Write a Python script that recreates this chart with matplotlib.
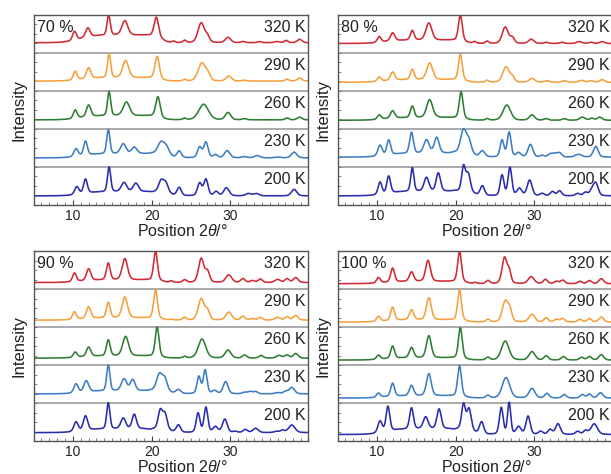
import numpy as np
import matplotlib.pyplot as plt
from matplotlib.ticker import MultipleLocator

plt.rcParams['font.family'] = ['Liberation Sans', 'DejaVu Sans']
plt.rcParams['mathtext.fontset'] = 'custom'
plt.rcParams['mathtext.rm'] = 'Liberation Sans'
plt.rcParams['mathtext.it'] = 'Liberation Sans:italic'

temps = ['320 K', '290 K', '260 K', '230 K', '200 K']
colours = ['#d02a34', '#f5a03c', '#2e7d32', '#3d7ec2', '#2a2cae']
humidity = ['70 %', '80 %', '90 %', '100 %']

# peaks: (2theta, apex height in strip units, fwhm)
p70_320 = [(10.2, 0.57, 0.35), (11.9, 0.66, 0.4), (14.55, 1.0, 0.3), (16.6, 0.85, 0.55), (20.6, 0.94, 0.4),
           (22.8, 0.31, 0.3), (24.2, 0.33, 0.3), (26.3, 0.79, 0.6), (27.1, 0.42, 0.4), (29.7, 0.41, 0.5),
           (31.6, 0.3, 0.4), (33.7, 0.3, 0.4), (35.9, 0.3, 0.5), (37.1, 0.33, 0.35), (38.8, 0.36, 0.45)]
p70_290 = [(10.3, 0.52, 0.35), (12.0, 0.61, 0.4), (14.6, 0.98, 0.3), (16.7, 0.8, 0.55), (20.7, 0.91, 0.4),
           (24.2, 0.3, 0.3), (26.4, 0.74, 0.7), (27.2, 0.4, 0.4), (29.8, 0.39, 0.5), (31.7, 0.28, 0.4),
           (37.2, 0.31, 0.35), (38.8, 0.34, 0.45)]
p70_260 = [(10.3, 0.5, 0.35), (12.0, 0.63, 0.4), (14.6, 0.98, 0.3), (16.8, 0.71, 0.6), (20.8, 0.85, 0.4),
           (24.2, 0.28, 0.3), (26.6, 0.65, 0.9), (29.7, 0.43, 0.5), (31.8, 0.27, 0.4), (37.2, 0.29, 0.35),
           (38.8, 0.31, 0.45)]
p70_230 = [(10.4, 0.48, 0.4), (11.6, 0.68, 0.35), (14.5, 0.98, 0.3), (16.4, 0.61, 0.5), (17.8, 0.52, 0.5),
           (20.0, 0.36, 0.4), (21.2, 0.65, 0.6), (21.9, 0.5, 0.5), (23.5, 0.42, 0.4), (26.1, 0.52, 0.4),
           (26.9, 0.65, 0.4), (28.1, 0.32, 0.4), (29.6, 0.43, 0.5), (31.8, 0.27, 0.5), (33.4, 0.3, 0.5),
           (36.0, 0.26, 0.5), (38.1, 0.39, 0.5)]
p70_200 = [(10.5, 0.48, 0.4), (11.6, 0.68, 0.35), (14.6, 1.0, 0.3), (16.5, 0.59, 0.5), (18.0, 0.57, 0.5),
           (20.0, 0.34, 0.4), (21.2, 0.63, 0.45), (21.8, 0.57, 0.45), (23.5, 0.46, 0.4), (26.1, 0.57, 0.4),
           (26.9, 0.67, 0.4), (28.2, 0.35, 0.4), (29.5, 0.45, 0.5), (32.3, 0.3, 0.5), (33.3, 0.3, 0.5),
           (38.1, 0.41, 0.5)]

p80_320 = [(10.3, 0.43, 0.35), (12.0, 0.53, 0.4), (14.5, 0.59, 0.35), (16.6, 0.79, 0.55), (20.6, 1.0, 0.35),
           (22.4, 0.3, 0.3), (24.0, 0.31, 0.3), (26.3, 0.68, 0.55), (27.2, 0.4, 0.4), (29.6, 0.36, 0.5),
           (31.5, 0.28, 0.4), (33.5, 0.28, 0.4), (35.7, 0.3, 0.5), (37.2, 0.28, 0.4), (38.6, 0.3, 0.45)]
p80_290 = [(10.3, 0.37, 0.35), (12.0, 0.5, 0.4), (14.5, 0.57, 0.35), (16.7, 0.74, 0.55), (20.6, 0.97, 0.35),
           (24.0, 0.28, 0.3), (26.4, 0.63, 0.6), (27.2, 0.36, 0.4), (29.7, 0.33, 0.5), (31.6, 0.27, 0.4),
           (33.8, 0.27, 0.4), (36.0, 0.28, 0.5), (37.2, 0.27, 0.4), (38.6, 0.3, 0.45)]
p80_260 = [(10.3, 0.37, 0.35), (12.0, 0.48, 0.4), (14.5, 0.6, 0.35), (16.7, 0.77, 0.55), (17.6, 0.31, 0.4),
           (20.7, 0.98, 0.35), (24.0, 0.27, 0.3), (26.5, 0.63, 0.7), (29.7, 0.37, 0.5), (31.5, 0.27, 0.4),
           (33.8, 0.27, 0.4), (36.1, 0.31, 0.5), (37.3, 0.28, 0.4), (38.3, 0.31, 0.45)]
p80_230 = [(10.4, 0.57, 0.4), (11.5, 0.71, 0.35), (14.4, 0.91, 0.35), (16.3, 0.71, 0.5), (17.6, 0.77, 0.45),
           (19.8, 0.38, 0.4), (21.0, 0.97, 0.55), (21.7, 0.65, 0.45), (23.4, 0.42, 0.45), (25.9, 0.7, 0.35),
           (26.8, 0.91, 0.35), (28.0, 0.37, 0.45), (29.5, 0.59, 0.45), (31.0, 0.3, 0.4), (32.0, 0.34, 0.4),
           (32.6, 0.35, 0.4), (33.2, 0.37, 0.4), (35.6, 0.33, 0.6), (37.8, 0.54, 0.45)]
p80_200 = [(10.4, 0.6, 0.35), (11.5, 0.76, 0.35), (14.5, 0.98, 0.3), (16.3, 0.72, 0.45), (17.8, 0.84, 0.4),
           (19.8, 0.37, 0.4), (21.0, 1.0, 0.35), (21.6, 0.81, 0.4), (23.4, 0.5, 0.4), (25.9, 0.78, 0.35),
           (26.9, 0.98, 0.35), (28.1, 0.43, 0.45), (29.4, 0.65, 0.45), (31.0, 0.3, 0.4), (32.3, 0.35, 0.4),
           (33.2, 0.37, 0.4), (35.5, 0.3, 0.4), (36.5, 0.33, 0.4), (37.3, 0.37, 0.4), (37.8, 0.57, 0.45)]

p90_320 = [(10.2, 0.42, 0.35), (12.0, 0.53, 0.4), (14.5, 0.68, 0.35), (16.6, 0.8, 0.5), (20.5, 1.0, 0.35),
           (22.5, 0.21, 0.3), (24.2, 0.24, 0.35), (26.3, 0.8, 0.5), (27.1, 0.45, 0.4), (29.8, 0.37, 0.55),
           (31.6, 0.27, 0.4), (32.8, 0.22, 0.4), (33.8, 0.26, 0.4), (36.0, 0.25, 0.5), (37.2, 0.27, 0.4),
           (38.3, 0.3, 0.45)]
p90_290 = [(10.2, 0.4, 0.35), (12.0, 0.53, 0.4), (14.5, 0.65, 0.35), (16.6, 0.79, 0.5), (20.5, 0.99, 0.35),
           (22.5, 0.2, 0.3), (24.2, 0.25, 0.35), (26.3, 0.74, 0.55), (27.1, 0.42, 0.4), (29.8, 0.39, 0.55),
           (31.6, 0.28, 0.4), (32.8, 0.22, 0.4), (33.8, 0.25, 0.4), (36.0, 0.25, 0.5), (37.2, 0.27, 0.4),
           (38.3, 0.3, 0.45)]
p90_260 = [(10.3, 0.34, 0.35), (12.0, 0.47, 0.4), (14.5, 0.66, 0.35), (16.7, 0.75, 0.55), (20.7, 1.0, 0.35),
           (24.2, 0.22, 0.35), (26.4, 0.68, 0.7), (29.7, 0.39, 0.55), (31.8, 0.26, 0.4), (33.9, 0.25, 0.4),
           (36.2, 0.25, 0.5), (37.2, 0.26, 0.4), (38.3, 0.3, 0.45)]
p90_230 = [(10.4, 0.5, 0.4), (11.7, 0.58, 0.45), (14.5, 1.0, 0.3), (16.5, 0.63, 0.5), (17.6, 0.61, 0.45),
           (19.8, 0.33, 0.4), (21.0, 0.76, 0.55), (21.7, 0.6, 0.45), (23.4, 0.35, 0.45), (26.0, 0.69, 0.35),
           (26.8, 0.86, 0.35), (28.0, 0.32, 0.45), (29.4, 0.56, 0.45), (31.8, 0.28, 0.4), (32.5, 0.3, 0.4),
           (33.2, 0.3, 0.4), (36.0, 0.27, 0.5), (37.0, 0.3, 0.4), (37.8, 0.41, 0.5)]
p90_200 = [(10.4, 0.5, 0.4), (11.6, 0.66, 0.4), (14.5, 1.0, 0.3), (16.4, 0.6, 0.45), (17.8, 0.7, 0.4),
           (19.8, 0.3, 0.4), (21.1, 0.8, 0.4), (21.7, 0.7, 0.4), (23.4, 0.42, 0.4), (25.9, 0.73, 0.35),
           (26.9, 0.88, 0.35), (28.1, 0.37, 0.45), (29.3, 0.57, 0.45), (30.6, 0.25, 0.4), (31.9, 0.3, 0.4),
           (33.2, 0.33, 0.5), (35.8, 0.25, 0.4), (36.6, 0.28, 0.4), (37.8, 0.42, 0.6)]

p100_320 = [(10.2, 0.3, 0.35), (12.0, 0.55, 0.35), (14.4, 0.45, 0.4), (16.5, 0.75, 0.45), (20.5, 1.0, 0.35),
            (22.5, 0.17, 0.3), (24.1, 0.22, 0.35), (26.2, 0.82, 0.45), (26.8, 0.45, 0.35), (29.6, 0.32, 0.55),
            (31.4, 0.25, 0.4), (32.8, 0.2, 0.4), (33.6, 0.23, 0.4), (35.8, 0.2, 0.4), (37.0, 0.22, 0.4),
            (38.5, 0.27, 0.45)]
p100_290 = [(10.2, 0.28, 0.35), (12.0, 0.52, 0.35), (14.4, 0.45, 0.4), (16.6, 0.77, 0.45), (20.5, 0.98, 0.35),
            (24.1, 0.2, 0.35), (26.3, 0.67, 0.55), (26.9, 0.4, 0.4), (29.7, 0.33, 0.55), (31.5, 0.24, 0.4),
            (32.8, 0.2, 0.4), (33.6, 0.22, 0.4), (35.8, 0.2, 0.4), (37.0, 0.22, 0.4), (38.5, 0.26, 0.45)]
p100_260 = [(10.2, 0.26, 0.35), (12.0, 0.5, 0.35), (14.4, 0.46, 0.4), (16.6, 0.77, 0.45), (20.6, 0.98, 0.35),
            (24.1, 0.2, 0.35), (26.3, 0.63, 0.7), (29.7, 0.35, 0.55), (31.5, 0.24, 0.4), (33.7, 0.22, 0.4),
            (36.0, 0.2, 0.4), (37.0, 0.22, 0.4), (38.5, 0.27, 0.45)]
p100_230 = [(10.2, 0.26, 0.35), (12.0, 0.52, 0.35), (14.4, 0.46, 0.4), (16.6, 0.77, 0.45), (20.5, 0.98, 0.35),
            (24.1, 0.2, 0.35), (26.4, 0.67, 0.7), (29.7, 0.38, 0.55), (31.6, 0.25, 0.4), (33.8, 0.22, 0.4),
            (36.1, 0.22, 0.4), (37.0, 0.23, 0.4), (38.4, 0.27, 0.45)]
p100_200 = [(10.4, 0.52, 0.4), (11.4, 0.91, 0.35), (14.4, 0.87, 0.35), (16.2, 0.63, 0.45), (17.9, 0.84, 0.4),
            (19.8, 0.3, 0.4), (21.0, 0.96, 0.35), (21.7, 0.84, 0.4), (23.3, 0.5, 0.4), (25.8, 0.87, 0.35),
            (26.8, 1.0, 0.3), (28.0, 0.37, 0.45), (29.2, 0.65, 0.4), (30.8, 0.25, 0.4), (32.0, 0.3, 0.4),
            (33.0, 0.45, 0.45), (35.5, 0.25, 0.4), (36.5, 0.27, 0.4), (37.6, 0.45, 0.6)]

# flat baseline and level of the broad hump (strip units), 320 K ... 200 K
base70 = [0.27, 0.26, 0.24, 0.24, 0.24]
hump70 = [0.47, 0.35, 0.35, 0.35, 0.35]
base80 = [0.25, 0.23, 0.23, 0.26, 0.24]
hump80 = [0.34, 0.30, 0.30, 0.36, 0.36]
base90 = [0.17, 0.18, 0.18, 0.24, 0.22]
hump90 = [0.24, 0.24, 0.24, 0.32, 0.32]
base100 = [0.14, 0.13, 0.13, 0.13, 0.17]
hump100 = [0.20, 0.19, 0.19, 0.19, 0.32]
# hump range in degrees
hump_lo = [(10.8, 21.3), (10.8, 21.3), (10.8, 21.3), (11.2, 22.3), (11.2, 22.3)]
hump_lo100 = [(10.8, 21.3), (10.8, 21.3), (10.8, 21.3), (10.8, 21.3), (11.2, 22.3)]

# instrument / image blur on top of the fwhm values above
broaden = 1.6

panels = [
    (humidity[0], [p70_320, p70_290, p70_260, p70_230, p70_200], base70, hump70, hump_lo),
    (humidity[1], [p80_320, p80_290, p80_260, p80_230, p80_200], base80, hump80, hump_lo),
    (humidity[2], [p90_320, p90_290, p90_260, p90_230, p90_200], base90, hump90, hump_lo),
    (humidity[3], [p100_320, p100_290, p100_260, p100_230, p100_200], base100, hump100, hump_lo100),
]

W, H = 611, 474
boxes = [(33.5, 15), (337.5, 15), (33.5, 251), (337.5, 251)]
aw, ah = 274, 190


def sig(z):
    return 1.0 / (1.0 + np.exp(-z))


def background(x, b, h, rng):
    return b + (h - b) * sig((x - rng[0]) / 0.9) * sig((rng[1] - x) / 0.35)


def pattern(x, peaks, b, h, rng):
    y = background(x, b, h, rng)
    for pos, top, w in peaks:
        w = w * broaden
        amp = top - background(np.array([pos]), b, h, rng)[0]
        d2 = 4 * (x - pos) ** 2 / w ** 2
        y = y + amp * (0.75 * np.exp(-np.log(2) * d2) + 0.25 / (1 + d2))
    return y


x = np.linspace(5, 40, 1600)
fig = plt.figure(figsize=(W / 100, H / 100), dpi=100)

for (label, pats, bases, humps, rngs), (bx, by) in zip(panels, boxes):
    ax = fig.add_axes([bx / W, 1 - (by + ah) / H, aw / W, ah / H])
    for k in range(1, 5):
        ax.axhline(k, color='#a9a9a9', lw=1.4, zorder=1)
    for i in range(5):
        off = 4 - i
        y = pattern(x, pats[i], bases[i], humps[i], rngs[i])
        ax.plot(x, y + off, color=colours[i], lw=1.15, zorder=2)
        ax.text(39.5, off + 0.67, temps[i], ha='right', va='center', fontsize=11.5, color='#222222')
    ax.text(5.45, 4.68, label, ha='left', va='center', fontsize=11.5, color='#222222')

    ax.set_xlim(5, 39.8)
    ax.set_ylim(0, 5)
    ax.xaxis.set_major_locator(MultipleLocator(10))
    ax.xaxis.set_minor_locator(MultipleLocator(1))
    ax.yaxis.set_major_locator(MultipleLocator(1))
    ax.yaxis.set_minor_locator(MultipleLocator(0.25))
    ax.set_yticklabels([])
    ax.tick_params(axis='x', which='major', direction='in', length=3.5, width=0.8, pad=3,
                   labelsize=10, colors='#444444', labelcolor='#222222')
    ax.tick_params(axis='x', which='minor', direction='in', length=2, width=0.6, colors='#666666')
    ax.tick_params(axis='y', which='both', direction='in', length=2.5, width=0.6, colors='#777777')
    ax.tick_params(top=False, right=False)
    for s in ax.spines.values():
        s.set_color('#555555')
        s.set_linewidth(1.0)

    ax.set_xlabel(r'Position 2$\it{\theta}$/°', fontsize=11.5, color='#222222')
    ax.xaxis.set_label_coords(0.545, -0.095)
    ax.set_ylabel('Intensity', fontsize=12, color='#222222')
    ax.yaxis.set_label_coords(-0.027, 0.5)

fig.savefig('out.png', dpi=100)
